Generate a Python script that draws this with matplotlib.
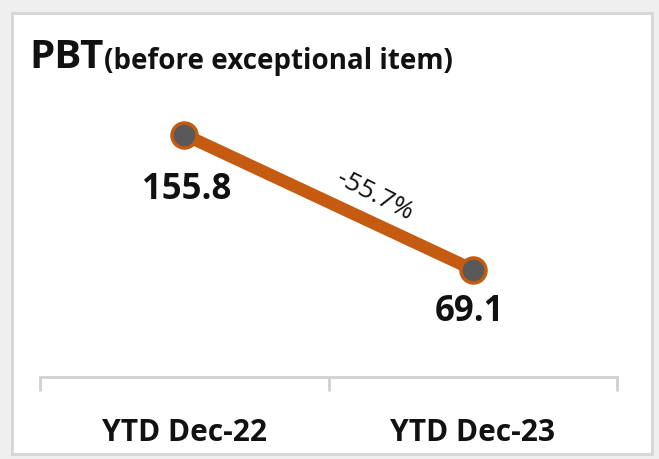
import matplotlib.pyplot as plt
from matplotlib.patches import Rectangle

# PBT (before exceptional item)
periods = ['YTD Dec-22', 'YTD Dec-23']
pbt = [155.8, 69.1]
change_label = '-55.7%'

line_color = '#C55A11'
marker_color = '#595959'
font = ['Open Sans', 'DejaVu Sans']

fig = plt.figure(figsize=(6.59, 4.60), dpi=100)
fig.patch.set_facecolor('#efefef')
fig.patches.append(Rectangle((12 / 659, 1 - 455 / 460), 640 / 659, 441 / 460,
                             transform=fig.transFigure, facecolor='white',
                             edgecolor='#d6d6d6', linewidth=2, zorder=-5))

ax = fig.add_axes([40 / 659, 1 - 378 / 460, 577 / 659, 280 / 460])
ax.set_facecolor('none')
x = list(range(len(periods)))
ax.plot(x, pbt, color=line_color, linewidth=9, solid_capstyle='round',
        marker='o', markersize=18, markerfacecolor=marker_color,
        markeredgecolor=line_color, markeredgewidth=2.5, zorder=3)

ax.set_xlim(-0.5, len(periods) - 0.5)
ax.set_ylim(0, 180)

offsets = [(2, -54), (-3, -41)]
for xi, v, off in zip(x, pbt, offsets):
    ax.annotate(f'{v:.1f}', (xi, v), xytext=off, textcoords='offset pixels',
                ha='center', va='center', fontsize=25, fontweight='bold',
                family=font, color='#111111')

ax.annotate(change_label, ((x[0] + x[1]) / 2, (pbt[0] + pbt[1]) / 2),
            xytext=(46, 7), textcoords='offset pixels', ha='center', va='center',
            rotation=-27, fontsize=19, family=font, color='#111111')

for s in ['top', 'left', 'right']:
    ax.spines[s].set_visible(False)
ax.spines['bottom'].set_color('#d0d0d0')
ax.spines['bottom'].set_linewidth(2)
ax.set_yticks([])
ax.set_xticks([-0.5, 0.5, 1.5])
ax.set_xticklabels([])
ax.set_xticks(x, minor=True)
ax.set_xticklabels(periods, minor=True, fontsize=21.5, fontweight='bold',
                   family=font, color='#111111')
ax.tick_params(axis='x', which='minor', length=0, pad=29)
ax.tick_params(axis='x', which='major', length=10, width=2, color='#d0d0d0',
               direction='out')

title = fig.text(29 / 659, 1 - 58 / 460, 'PBT', fontsize=29, fontweight='bold',
                 family=font, va='center', ha='left', color='#111111')
fig.canvas.draw()
tb = title.get_window_extent()
fig.text(tb.x1 / 659 + 1 / 659, 1 - 62 / 460, '(before exceptional item)',
         fontsize=20, fontweight='bold', family=font, va='center', ha='left',
         color='#111111')

fig.savefig('out.png', dpi=100, facecolor=fig.get_facecolor())
